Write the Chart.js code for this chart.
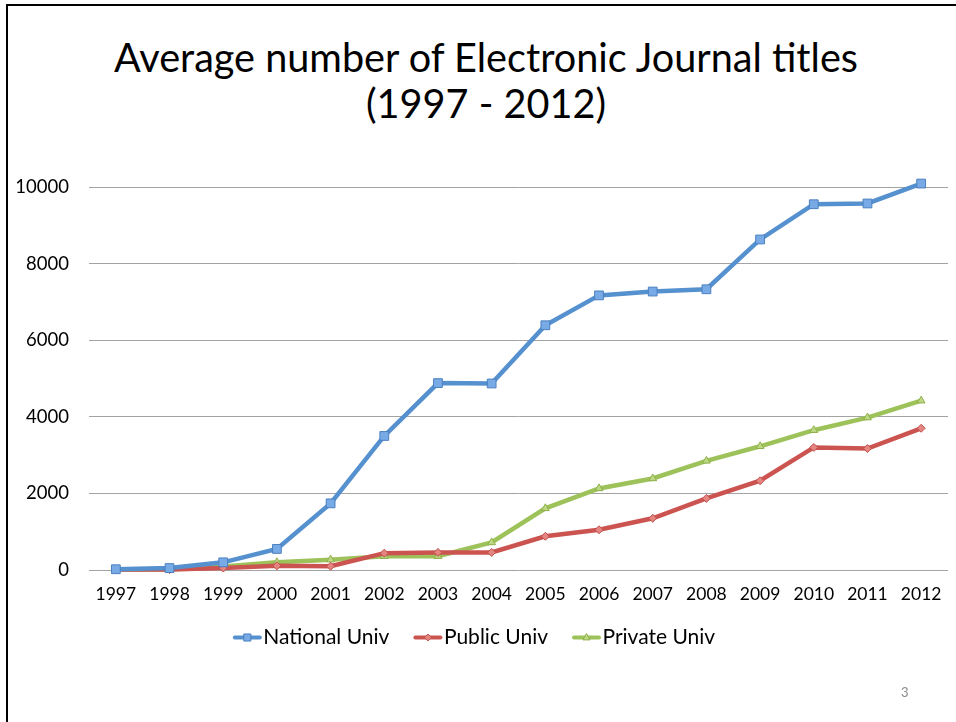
<!DOCTYPE html>
<html>
<head>
<meta charset="utf-8">
<script src="https://cdn.jsdelivr.net/npm/chart.js@4.4.1/dist/chart.umd.min.js"></script>
<style>
  html, body { margin: 0; padding: 0; background: #ffffff; }
  body { width: 956px; height: 722px; position: relative; overflow: hidden; font-family: Lato, "Open Sans", sans-serif; }
  #frame { position: absolute; left: 6px; top: 4px; width: 980px; height: 760px; border-left: 2px solid #000; border-top: 2px solid #000; box-sizing: border-box; }
  #title { position: absolute; left: 8px; top: 34px; width: 956px; text-align: center; color: #000; font-size: 40px; line-height: 46px; white-space: nowrap; }
  #chart { position: absolute; left: 0; top: 0; }
  #page { position: absolute; left: 901px; top: 684px; font-size: 13px; color: #8a8a8a; }
</style>
</head>
<body>
<div id="frame"></div>
<div id="title"><span id="t1">Average number of Electronic Journal titles</span><br><span>(1997 - 2012)</span></div>
<canvas id="chart" width="956" height="722"></canvas>
<div id="page">3</div>
<script>
// ---- data ----
const years = ["1997","1998","1999","2000","2001","2002","2003","2004","2005","2006","2007","2008","2009","2010","2011","2012"];
const nationalUniv = [20, 50, 200, 550, 1740, 3500, 4880, 4870, 6390, 7170, 7270, 7330, 8630, 9550, 9570, 10090];
const publicUniv   = [10, 10, 50, 110, 100, 440, 460, 460, 880, 1050, 1350, 1870, 2330, 3200, 3170, 3700];
const privateUniv  = [10, 10, 90, 200, 270, 360, 360, 720, 1610, 2130, 2390, 2850, 3230, 3650, 3980, 4420];
const seriesNames  = ["National Univ", "Public Univ", "Private Univ"];
const yTicks       = [0, 2000, 4000, 6000, 8000, 10000];

// ---- fit title width ----
(function () {
  const t = document.getElementById('title');
  const s = document.getElementById('t1');
  const w = s.getBoundingClientRect().width;
  t.style.fontSize = (40 * 744 / w).toFixed(2) + 'px';
})();

const styles = [
  { line: '#5590cf', fill: '#78aae6', edge: '#4b80c0', shape: 'rect', r: 6.2, lr: 5 },
  { line: '#cc5450', fill: '#e58580', edge: '#c0504d', shape: 'rectRot', r: 4, lr: 3.5 },
  { line: '#9dc25a', fill: '#bcd883', edge: '#8fb04c', shape: 'triangle', r: 4.5, lr: 4 }
];
const values = [nationalUniv, publicUniv, privateUniv];

const datasets = seriesNames.map((name, i) => ({
  label: name,
  data: values[i],
  borderColor: styles[i].line,
  backgroundColor: styles[i].fill,
  borderWidth: 4.5,
  pointStyle: styles[i].shape,
  pointRadius: styles[i].r,
  pointHoverRadius: styles[i].r,
  pointBackgroundColor: styles[i].fill,
  pointBorderColor: styles[i].edge,
  pointBorderWidth: 1,
  tension: 0,
  fill: false,
  clip: 12
}));

function drawMarker(ctx, shape, x, y, r, fill, edge) {
  ctx.save();
  ctx.fillStyle = fill;
  ctx.strokeStyle = edge;
  ctx.lineWidth = 1;
  ctx.beginPath();
  if (shape === 'rect') {
    const s = r * Math.SQRT1_2;
    ctx.rect(x - s, y - s, 2 * s, 2 * s);
  } else if (shape === 'rectRot') {
    ctx.moveTo(x, y - r); ctx.lineTo(x + r, y); ctx.lineTo(x, y + r); ctx.lineTo(x - r, y); ctx.closePath();
  } else {
    ctx.moveTo(x, y - r); ctx.lineTo(x + r * 0.9, y + r * 0.6); ctx.lineTo(x - r * 0.9, y + r * 0.6); ctx.closePath();
  }
  ctx.fill();
  ctx.stroke();
  ctx.restore();
}

const legendLinePlugin = {
  id: 'legendLine',
  afterDraw(chart) {
    const lg = chart.legend;
    if (!lg || !lg.legendHitBoxes) return;
    const ctx = chart.ctx;
    lg.legendHitBoxes.forEach((hb, i) => {
      const st = styles[i];
      const cy = hb.top + hb.height / 2;
      const x0 = hb.left, x1 = hb.left + 29;
      ctx.save();
      ctx.strokeStyle = st.line;
      ctx.lineWidth = 4;
      ctx.lineCap = 'round';
      ctx.beginPath();
      ctx.moveTo(x0 + 2, cy); ctx.lineTo(x1 - 2, cy);
      ctx.stroke();
      ctx.restore();
      drawMarker(ctx, st.shape, (x0 + x1) / 2, cy, st.lr, st.fill, st.edge);
    });
  }
};

new Chart(document.getElementById('chart'), {
  type: 'line',
  data: { labels: years, datasets },
  plugins: [legendLinePlugin],
  options: {
    responsive: false,
    animation: false,
    devicePixelRatio: 1,
    layout: { padding: { top: 187, left: 0, right: 8, bottom: 64 } },
    plugins: {
      title: { display: false },
      tooltip: { enabled: false },
      legend: {
        position: 'bottom',
        labels: {
          boxWidth: 20,
          boxHeight: 5,
          padding: 24,
          color: '#000',
          font: { family: 'Lato', size: 21 },
          generateLabels(chart) {
            const items = Chart.defaults.plugins.legend.labels.generateLabels(chart);
            items.forEach(it => { it.fillStyle = 'rgba(0,0,0,0)'; it.strokeStyle = 'rgba(0,0,0,0)'; it.lineWidth = 0; });
            return items;
          }
        }
      }
    },
    scales: {
      x: {
        offset: true,
        grid: { display: false, drawTicks: false },
        border: { display: false },
        ticks: { color: '#000', font: { family: 'Lato', size: 17.5 }, padding: 14, maxRotation: 0, autoSkip: false },
        afterFit(scale) { scale.height = 33; }
      },
      y: {
        min: 0,
        max: 10000,
        afterBuildTicks(scale) { scale.ticks = yTicks.map(v => ({ value: v })); },
        grid: { color: '#a3a3a3', lineWidth: 1, drawTicks: false },
        border: { display: false },
        ticks: { color: '#000', font: { family: 'Lato', size: 18.5 }, padding: 20, callback: v => String(v) },
        afterFit(scale) { scale.width = 89; }
      }
    }
  }
});
</script>
</body>
</html>
